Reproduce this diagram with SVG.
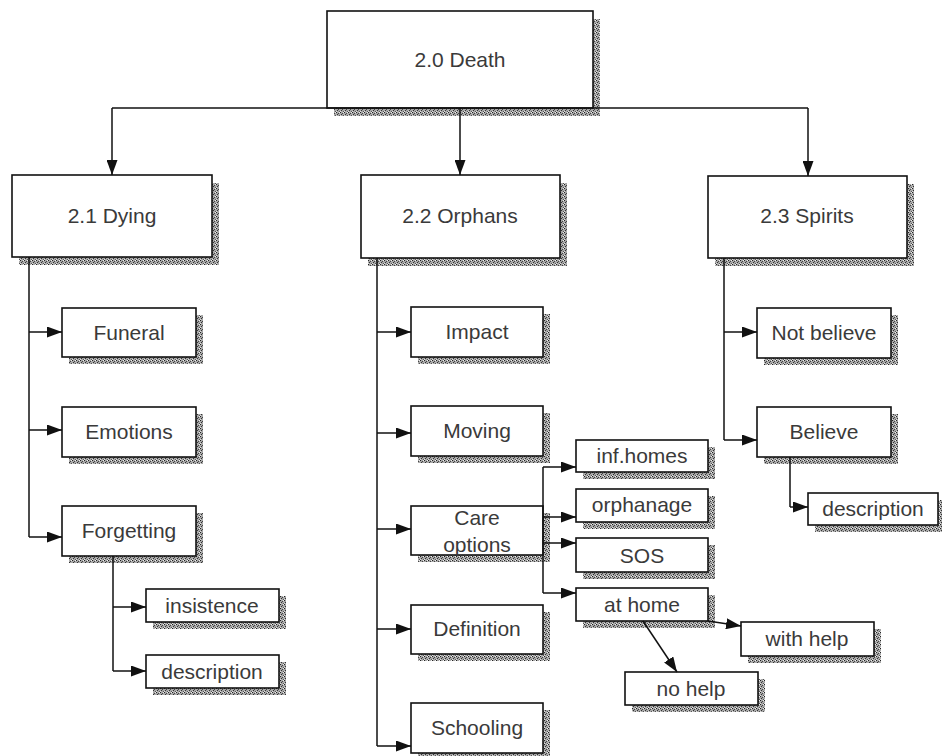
<svg xmlns="http://www.w3.org/2000/svg" width="942" height="756" viewBox="0 0 942 756">
<defs>
<pattern id="stip" width="4" height="4" patternUnits="userSpaceOnUse">
<rect width="4" height="4" fill="#a8a8a8"/>
<rect x="0" y="0" width="1" height="1" fill="#222"/>
<rect x="2" y="1" width="1" height="1" fill="#444"/>
<rect x="1" y="2" width="1" height="1" fill="#333"/>
<rect x="3" y="3" width="1" height="1" fill="#555"/>
<rect x="3" y="0" width="1" height="1" fill="#eee"/>
<rect x="0" y="3" width="1" height="1" fill="#ddd"/>
</pattern>
<marker id="ah" viewBox="0 0 15 11" refX="15" refY="5.5" markerWidth="15" markerHeight="11" markerUnits="userSpaceOnUse" orient="auto">
<path d="M0,0 L15,5.5 L0,11 Z" fill="#111"/>
</marker>
</defs>
<style>
.box{fill:#fff;stroke:#111;stroke-width:1.6}
.sh{fill:url(#stip)}
.t{font-family:"Liberation Sans",Arial,sans-serif;font-size:21px;fill:#3a3a3a;text-anchor:middle}
.c{fill:none;stroke:#111;stroke-width:1.5}
.a{fill:none;stroke:#111;stroke-width:1.5;marker-end:url(#ah)}
</style>
<rect width="942" height="756" fill="#fff"/>

<g id="n-death"><rect class="sh" x="334" y="19" width="266" height="97"/><rect class="box" x="327" y="11" width="266" height="97"/><text class="t" x="460" y="67">2.0 Death</text></g>
<g id="n-dying"><rect class="sh" x="19" y="183" width="200" height="82"/><rect class="box" x="12" y="175" width="200" height="82"/><text class="t" x="112" y="223">2.1 Dying</text></g>
<g id="n-orphans"><rect class="sh" x="368" y="183" width="199" height="83"/><rect class="box" x="361" y="175" width="199" height="83"/><text class="t" x="460" y="223">2.2 Orphans</text></g>
<g id="n-spirits"><rect class="sh" x="715" y="184" width="199" height="82"/><rect class="box" x="708" y="176" width="199" height="82"/><text class="t" x="807" y="223">2.3 Spirits</text></g>

<g id="n-funeral"><rect class="sh" x="69" y="315" width="134" height="49"/><rect class="box" x="62" y="308" width="134" height="49"/><text class="t" x="129" y="340">Funeral</text></g>
<g id="n-emotions"><rect class="sh" x="69" y="414" width="134" height="50"/><rect class="box" x="62" y="407" width="134" height="50"/><text class="t" x="129" y="439">Emotions</text></g>
<g id="n-forgetting"><rect class="sh" x="69" y="513" width="134" height="50"/><rect class="box" x="62" y="506" width="134" height="50"/><text class="t" x="129" y="538">Forgetting</text></g>
<g id="n-insistence"><rect class="sh" x="153" y="596" width="133" height="33"/><rect class="box" x="146" y="589" width="133" height="33"/><text class="t" x="212" y="613">insistence</text></g>
<g id="n-description1"><rect class="sh" x="153" y="662" width="133" height="33"/><rect class="box" x="146" y="655" width="133" height="33"/><text class="t" x="212" y="679">description</text></g>

<g id="n-impact"><rect class="sh" x="418" y="314" width="132" height="50"/><rect class="box" x="411" y="307" width="132" height="50"/><text class="t" x="477" y="339">Impact</text></g>
<g id="n-moving"><rect class="sh" x="418" y="413" width="132" height="50"/><rect class="box" x="411" y="406" width="132" height="50"/><text class="t" x="477" y="438">Moving</text></g>
<g id="n-care"><rect class="sh" x="418" y="513" width="132" height="49"/><rect class="box" x="411" y="506" width="132" height="49"/><text class="t" x="477" y="525">Care</text><text class="t" x="477" y="552">options</text></g>
<g id="n-definition"><rect class="sh" x="418" y="612" width="132" height="49"/><rect class="box" x="411" y="605" width="132" height="49"/><text class="t" x="477" y="636">Definition</text></g>
<g id="n-schooling"><rect class="sh" x="418" y="710" width="132" height="50"/><rect class="box" x="411" y="703" width="132" height="50"/><text class="t" x="477" y="735">Schooling</text></g>

<g id="n-infhomes"><rect class="sh" x="583" y="447" width="132" height="32"/><rect class="box" x="576" y="440" width="132" height="32"/><text class="t" x="642" y="463">inf.homes</text></g>
<g id="n-orphanage"><rect class="sh" x="583" y="496" width="132" height="33"/><rect class="box" x="576" y="489" width="132" height="33"/><text class="t" x="642" y="512">orphanage</text></g>
<g id="n-sos"><rect class="sh" x="583" y="545" width="132" height="34"/><rect class="box" x="576" y="538" width="132" height="34"/><text class="t" x="642" y="563">SOS</text></g>
<g id="n-athome"><rect class="sh" x="583" y="595" width="132" height="33"/><rect class="box" x="576" y="588" width="132" height="33"/><text class="t" x="642" y="612">at home</text></g>
<g id="n-withhelp"><rect class="sh" x="748" y="629" width="133" height="34"/><rect class="box" x="741" y="622" width="133" height="34"/><text class="t" x="807" y="646">with help</text></g>
<g id="n-nohelp"><rect class="sh" x="632" y="679" width="133" height="33"/><rect class="box" x="625" y="672" width="133" height="33"/><text class="t" x="691" y="696">no help</text></g>

<g id="n-notbelieve"><rect class="sh" x="764" y="315" width="134" height="50"/><rect class="box" x="757" y="308" width="134" height="50"/><text class="t" x="824" y="340">Not believe</text></g>
<g id="n-believe"><rect class="sh" x="764" y="414" width="134" height="50"/><rect class="box" x="757" y="407" width="134" height="50"/><text class="t" x="824" y="439">Believe</text></g>
<g id="n-description2"><rect class="sh" x="815" y="500" width="130" height="32"/><rect class="box" x="808" y="493" width="130" height="32"/><text class="t" x="873" y="516">description</text></g>

<g id="connectors">
<path class="c" d="M112,108 H808"/>
<path class="a" d="M112,108 V175"/>
<path class="a" d="M460,108 V175"/>
<path class="a" d="M808,108 V176"/>

<path class="c" d="M29,257 V537"/>
<path class="a" d="M29,332 H62"/>
<path class="a" d="M29,430 H62"/>
<path class="a" d="M29,537 H62"/>
<path class="c" d="M113,556 V671"/>
<path class="a" d="M113,607 H146"/>
<path class="a" d="M113,671 H146"/>

<path class="c" d="M377,258 V746"/>
<path class="a" d="M377,332 H411"/>
<path class="a" d="M377,433 H411"/>
<path class="a" d="M377,529 H411"/>
<path class="a" d="M377,629 H411"/>
<path class="a" d="M377,746 H411"/>

<path class="c" d="M543,467 V593"/>
<path class="a" d="M543,467 H576"/>
<path class="a" d="M543,517 H576"/>
<path class="a" d="M543,543 H576"/>
<path class="a" d="M543,593 H576"/>
<path class="a" d="M708,621 L741,626"/>
<path class="a" d="M643,621 L677,672"/>

<path class="c" d="M724,258 V440"/>
<path class="a" d="M724,332 H757"/>
<path class="a" d="M724,440 H757"/>
<path class="c" d="M790,457 V507"/>
<path class="a" d="M790,507 H808"/>
</g>
</svg>
